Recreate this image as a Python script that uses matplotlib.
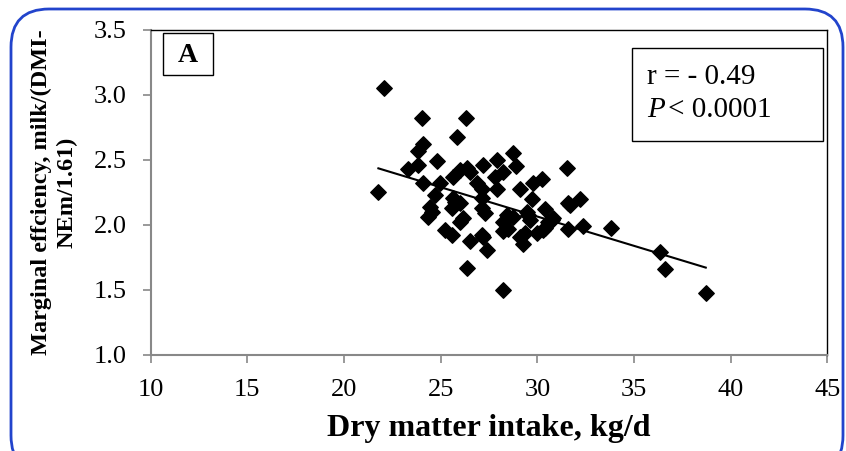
import numpy as np
import matplotlib.pyplot as plt
from matplotlib.patches import FancyBboxPatch, Rectangle

# dados (DMI kg/d, eficiencia marginal)
dmi = [22.07, 21.78, 24.03, 26.30, 25.84, 24.08, 23.82, 24.80, 23.31, 23.82,
       24.08, 25.99, 26.36, 26.51, 27.18, 27.91, 28.73, 28.89, 28.22, 27.80,
       26.87, 27.13, 27.91, 29.10, 29.77, 29.72, 31.52, 30.23, 31.68, 32.20,
       30.39, 29.46, 29.61, 30.80, 30.54, 31.58, 32.35, 33.80, 29.97, 30.28,
       29.35, 29.25, 36.33, 36.59, 38.71, 24.70, 24.55, 24.34, 25.74, 25.58,
       26.15, 25.99, 27.13, 27.29, 25.21, 25.58, 26.51, 27.18, 27.39, 28.22,
       28.48, 28.73, 28.22, 26.36, 28.22, 24.96, 25.63, 25.63, 25.99, 27.13,
       24.44, 28.43, 29.51, 31.58, 30.75, 29.10, 30.39, 27.13]
eff = [3.05, 2.25, 2.82, 2.82, 2.68, 2.62, 2.57, 2.49, 2.43, 2.46,
       2.32, 2.42, 2.44, 2.41, 2.46, 2.50, 2.55, 2.45, 2.41, 2.37,
       2.32, 2.28, 2.28, 2.28, 2.32, 2.20, 2.44, 2.35, 2.15, 2.20,
       2.12, 2.10, 2.04, 2.05, 2.02, 1.97, 1.99, 1.98, 1.94, 1.96,
       1.94, 1.85, 1.79, 1.66, 1.48, 2.23, 2.10, 2.06, 2.18, 2.13,
       2.05, 2.02, 2.13, 2.09, 1.96, 1.92, 1.88, 1.91, 1.81, 2.02,
       1.97, 2.06, 1.95, 1.67, 1.50, 2.32, 2.37, 2.21, 2.17, 2.21,
       2.14, 2.08, 2.08, 2.17, 2.04, 1.91, 1.98, 1.92]

# reta de regressao
slope = -0.0451
intercept = 3.418

x_ticks = [10, 15, 20, 25, 30, 35, 40, 45]
y_ticks = [1.0, 1.5, 2.0, 2.5, 3.0, 3.5]

plt.rcParams['font.family'] = ['Liberation Serif', 'DejaVu Serif']

fig = plt.figure(figsize=(8.46, 4.51), dpi=100)
ax = fig.add_axes([0.178, 0.2129, 0.800, 0.7206])

ax.scatter(dmi, eff, marker='D', s=62, color='black', zorder=3)

xl = np.array([min(dmi), max(dmi)])
ax.plot(xl, intercept + slope * xl, color='black', linewidth=1.5, zorder=2)

ax.set_xlim(10, 45)
ax.set_ylim(1.0, 3.5)
ax.set_xticks(x_ticks)
ax.set_yticks(y_ticks)
ax.set_yticklabels([f"{v:.1f}" for v in y_ticks])
ax.tick_params(axis='both', labelsize=19, direction='out', length=6,
               width=1.2, color='#888888')
ax.tick_params(axis='x', pad=11)
ax.tick_params(axis='y', pad=11)

for side in ['left', 'bottom']:
    ax.spines[side].set_color('#888888')
    ax.spines[side].set_linewidth(1.5)
for side in ['top', 'right']:
    ax.spines[side].set_color('black')
    ax.spines[side].set_linewidth(1.0)

ax.set_xlabel("Dry matter intake, kg/d", fontsize=23, fontweight='bold', labelpad=10)
ax.set_ylabel("Marginal effciency, milk/(DMI-\nNEm/1.61)", fontsize=17.5,
              fontweight='bold', labelpad=12, linespacing=1.25)

# caixa "A"
ax.add_patch(Rectangle((0.018, 0.862), 0.074, 0.129, transform=ax.transAxes,
                       fill=False, edgecolor='black', linewidth=1.0, zorder=4))
ax.text(0.055, 0.922, "A", transform=ax.transAxes, fontsize=20,
        fontweight='bold', ha='center', va='center')

# caixa estatistica
ax.add_patch(Rectangle((0.711, 0.658), 0.282, 0.286, transform=ax.transAxes,
                       fill=False, edgecolor='black', linewidth=1.0, zorder=4))
ax.text(0.733, 0.855, "r = - 0.49", transform=ax.transAxes, fontsize=21,
        ha='left', va='center')
ax.text(0.733, 0.755, "P", transform=ax.transAxes, fontsize=21,
        fontstyle='italic', ha='left', va='center')
ax.text(0.764, 0.755, "< 0.0001", transform=ax.transAxes, fontsize=21,
        ha='left', va='center')

# moldura azul arredondada
frame = FancyBboxPatch((11 / 846, -0.05), (843 - 11) / 846, 1 - 9 / 451 + 0.05,
                       boxstyle="round,pad=0,rounding_size=0.045",
                       transform=fig.transFigure, fill=False,
                       edgecolor='#2244cc', linewidth=2, mutation_aspect=846 / 451)
fig.patches.append(frame)

fig.savefig("out.png", dpi=100)
